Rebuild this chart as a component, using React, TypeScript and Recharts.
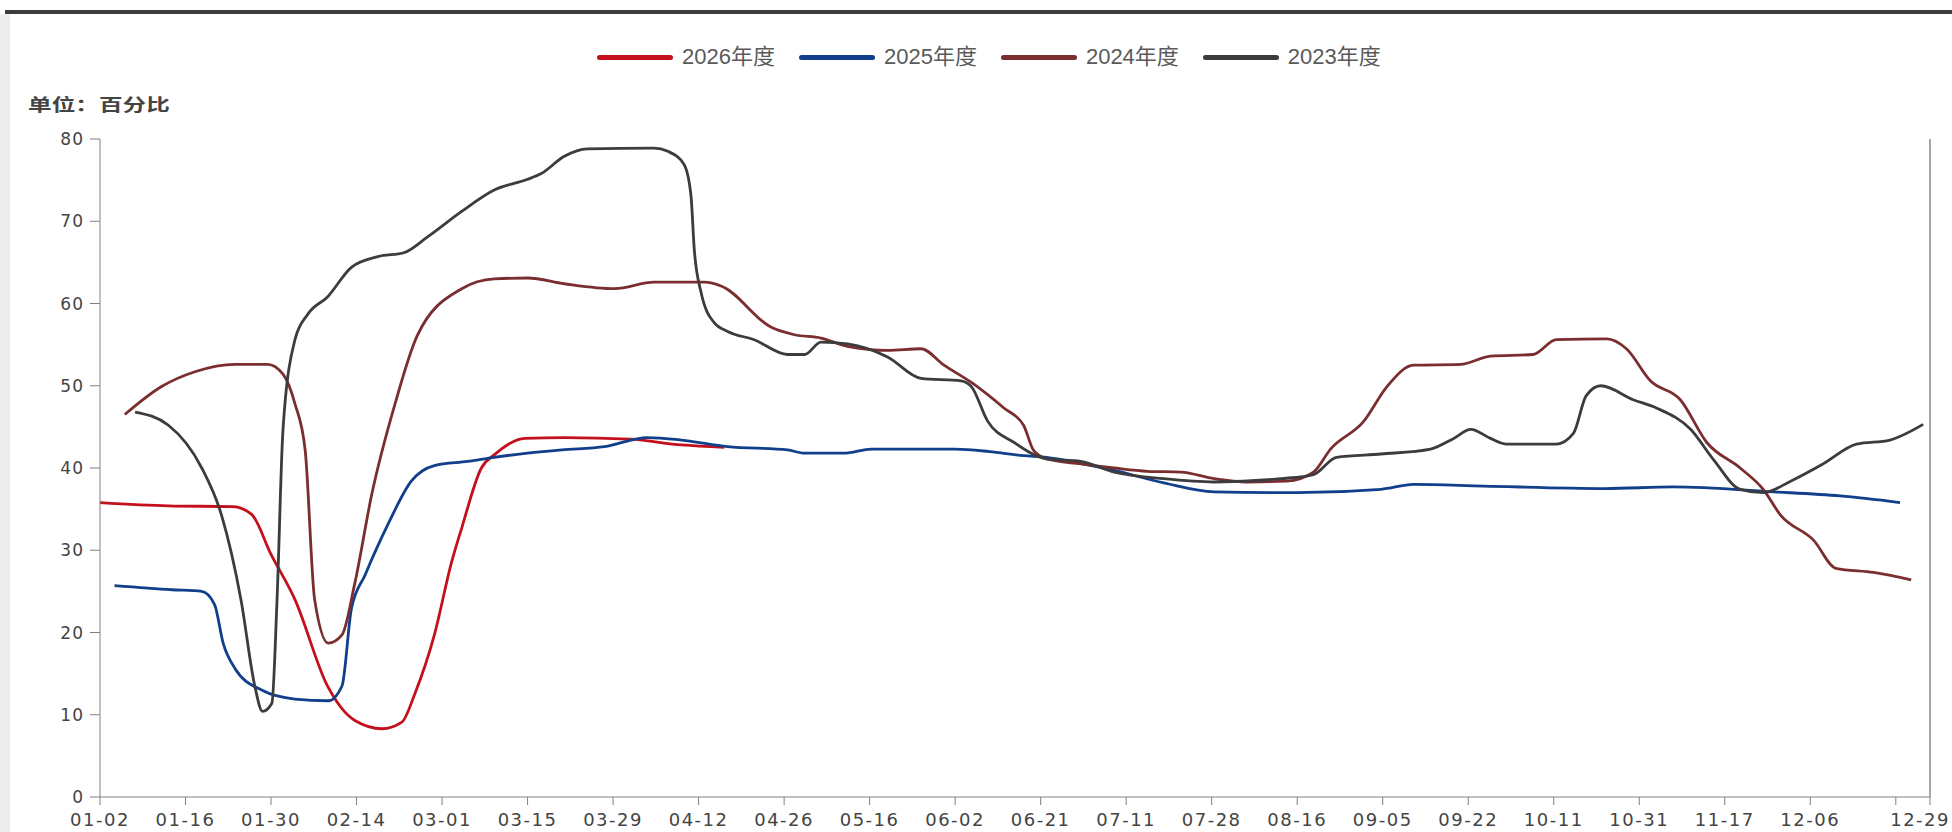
import React from 'react';
import { LineChart, Line, XAxis, YAxis, ReferenceLine } from 'recharts';

// x position = trading-day index, one labelled tick every 10 days
const tickIdx = [0, 10, 20, 30, 40, 50, 60, 70, 80, 90, 100, 110, 120, 130, 140, 150, 160, 170, 180, 190, 200, 210, 214];
const tickLabels = ['01-02', '01-16', '01-30', '02-14', '03-01', '03-15', '03-29', '04-12', '04-26', '05-16', '06-02', '06-21', '07-11', '07-28', '08-16', '09-05', '09-22', '10-11', '10-31', '11-17', '12-06', '', '12-29'];
const yTicks = [0, 10, 20, 30, 40, 50, 60, 70, 80];

const s2026 = [
  [0, 35.8], [8, 35.4], [15.5, 35.3], [17.7, 34.4], [20, 29.5], [22.8, 24], [26.6, 13.5], [29.8, 9.3],
  [33, 8.3], [35.3, 9.1], [36.8, 12.5], [39.1, 19.7], [41.1, 28.5], [42.3, 32.7], [44.6, 40], [46.1, 41.6],
  [49.7, 43.6], [54.3, 43.7], [62, 43.5], [68, 42.8], [73, 42.5],
];

const s2025 = [
  [1.7, 25.7], [8.4, 25.2], [11.9, 25], [13.4, 23.4], [14.4, 18.7], [15.8, 15.6], [18.9, 13], [22.8, 11.9],
  [26.7, 11.7], [28.3, 13.5], [29.4, 22.9], [31, 27], [33.7, 33.2], [36.4, 38.4], [39.1, 40.3], [43, 40.8],
  [46.1, 41.3], [50, 41.8], [54, 42.2], [59, 42.6], [64, 43.7], [68, 43.4], [73.4, 42.6], [80.4, 42.2],
  [82.4, 41.8], [87, 41.8], [90.2, 42.3], [100, 42.3], [104, 42], [108, 41.5], [110.7, 41.3], [114.5, 40.6],
  [118.6, 39.7], [124.4, 38.2], [130.3, 37.1], [140, 37], [149.8, 37.4], [153.6, 38], [161.8, 37.8],
  [176, 37.5], [184, 37.7], [195.7, 37.1], [203.5, 36.6], [210.5, 35.8],
];

const s2024 = [
  [2.9, 46.5], [7.2, 49.9], [11.1, 51.7], [15.8, 52.6], [19.6, 52.6], [21.4, 51.4], [22.8, 47.8], [24, 42.1],
  [25.1, 24], [26.7, 18.7], [28.3, 19.7], [29.8, 26], [31.8, 36.9], [34.5, 47.8], [37.1, 56.1], [42.3, 61.8],
  [46.1, 63], [50, 63.1], [54.3, 62.4], [60.2, 61.8], [64.8, 62.6], [70.7, 62.6], [72.7, 62.1], [78.5, 57.1],
  [81.2, 56.2], [84.3, 55.8], [87.4, 54.8], [92.1, 54.3], [96, 54.5], [98.7, 52.5], [101.9, 50.4],
  [105.7, 47.3], [108, 45.2], [109.2, 42.1], [110.7, 41.1], [114.7, 40.5], [118.6, 40], [122.5, 39.6],
  [126.4, 39.5], [130.3, 38.7], [134.1, 38.3], [138.8, 38.4], [141.9, 39.5], [143.9, 42.3], [147.8, 45.7],
  [150.5, 49.9], [153.6, 52.5], [159.1, 52.6], [162.6, 53.6], [167.6, 53.8], [170.3, 55.6], [176.2, 55.7],
  [178.5, 54.5], [181.3, 50.6], [184.8, 48.3], [187.9, 43.1], [191.8, 40], [194.5, 37.4], [196.5, 34.3],
  [200.4, 31.2], [203, 27.8], [207.4, 27.3], [211.8, 26.4],
];

const s2023 = [
  [4.1, 46.8], [8, 45.2], [11.9, 40], [14.2, 34.3], [16.5, 23.9], [18.1, 13.5], [19, 10.4], [20.1, 11.4],
  [20.7, 23.9], [21.4, 44.7], [22.8, 55.6], [24.3, 58.7], [26.6, 60.8], [29.4, 64.4], [32.5, 65.7],
  [35.6, 66.2], [38.3, 68.1], [42.3, 71.2], [46.1, 73.8], [50, 75.1], [51.6, 75.8], [54.3, 77.9], [57, 78.8],
  [64.8, 78.9], [66.4, 78.5], [68.3, 76.9], [69.1, 73.2], [69.5, 66.5], [70.3, 61.3], [71.8, 57.7],
  [73.4, 56.6], [76.5, 55.6], [80.4, 53.8], [82.4, 53.8], [84.3, 55.3], [87.4, 55.1], [92.1, 53.5],
  [96, 50.9], [100.7, 50.6], [101.9, 49.9], [103.8, 45.7], [106.9, 43.1], [110.7, 41.1], [114.7, 40.8],
  [118.6, 39.5], [124.4, 38.7], [130.3, 38.3], [138.1, 38.7], [141.9, 39.2], [144.6, 41.3], [149.8, 41.7],
  [155.6, 42.3], [158.3, 43.6], [160.3, 44.7], [162.6, 43.6], [164.5, 42.9], [170.3, 42.9], [172.3, 44.2],
  [173.8, 48.8], [175.5, 50], [179.3, 48.3], [182, 47.3], [186, 44.7], [188.7, 41], [191.8, 37.4],
  [194.5, 37], [197.7, 38.4], [201.5, 40.5], [205.4, 42.9], [209.3, 43.4], [213.2, 45.3],
];

const series = [
  { name: '2026年度', color: '#c4101c', points: s2026 },
  { name: '2025年度', color: '#113f8c', points: s2025 },
  { name: '2024年度', color: '#7a2e30', points: s2024 },
  { name: '2023年度', color: '#3c3c3e', points: s2023 },
];

const toData = (pts) => pts.map(([idx, v]) => ({ idx, v }));

// last label sits on the right edge, pull it in so it stays on the page
const XTick = ({ x, y, payload }) => {
  const i = tickIdx.indexOf(payload.value);
  const label = i >= 0 ? tickLabels[i] : '';
  const last = i === tickIdx.length - 1;
  return (
    <text
      x={last ? 1950 : x}
      y={y}
      dy="0.9em"
      textAnchor={last ? 'end' : 'middle'}
      fontSize={18}
      fill="#444"
      fontFamily="DejaVu Sans"
      letterSpacing={1.5}
    >
      {label}
    </text>
  );
};

const ChartLegend = () => (
  <div style={{ position: 'absolute', left: 597, top: 45, display: 'flex', alignItems: 'center' }}>
    {series.map((s) => (
      <div key={s.name} style={{ display: 'flex', alignItems: 'center', marginRight: 24 }}>
        <div style={{ width: 76, height: 5, borderRadius: 3, background: s.color }} />
        <span style={{ marginLeft: 9, fontFamily: 'Liberation Sans, Noto Sans CJK SC', fontSize: 22, color: '#5a5a5a', lineHeight: '24px' }}>
          {s.name}
        </span>
      </div>
    ))}
  </div>
);

export default function App() {
  return (
    <div style={{ position: 'absolute', left: 0, top: 0, width: 1952, height: 832, background: '#fff', overflow: 'hidden' }}>
      <div style={{ position: 'absolute', left: 0, top: 14, width: 10, height: 818, background: '#ececec' }} />
      <div style={{ position: 'absolute', left: 5, top: 10, right: 0, height: 4, background: '#3c3c3c' }} />
      <ChartLegend />
      <div
        style={{
          position: 'absolute', left: 28, top: 91, fontFamily: 'Noto Sans CJK SC', fontWeight: 700,
          fontSize: 17, color: '#444', transform: 'scaleX(1.39)', transformOrigin: 'left center', whiteSpace: 'nowrap',
        }}
      >
        单位：百分比
      </div>
      <div style={{ position: 'absolute', left: 0, top: 0 }}>
        <LineChart width={1952} height={832} margin={{ top: 139, right: 22, bottom: 0, left: 0 }}>
          <XAxis
            type="number"
            dataKey="idx"
            domain={[0, 214]}
            ticks={tickIdx}
            interval={0}
            height={35}
            tickSize={8}
            tickMargin={5}
            stroke="#808080"
            tick={<XTick />}
          />
          <YAxis
            type="number"
            domain={[0, 80]}
            ticks={yTicks}
            interval={0}
            width={100}
            tickSize={10}
            tickMargin={6}
            stroke="#808080"
            tick={{ fontSize: 17, fill: '#444', fontFamily: 'DejaVu Sans', letterSpacing: 1 }}
          />
          <ReferenceLine x={214} stroke="#8a8a8a" strokeWidth={1.5} />
          {series.map((s) => (
            <Line
              key={s.name}
              data={toData(s.points)}
              dataKey="v"
              name={s.name}
              type="monotone"
              stroke={s.color}
              strokeWidth={2.8}
              dot={false}
              activeDot={false}
              isAnimationActive={false}
            />
          ))}
        </LineChart>
      </div>
    </div>
  );
}
